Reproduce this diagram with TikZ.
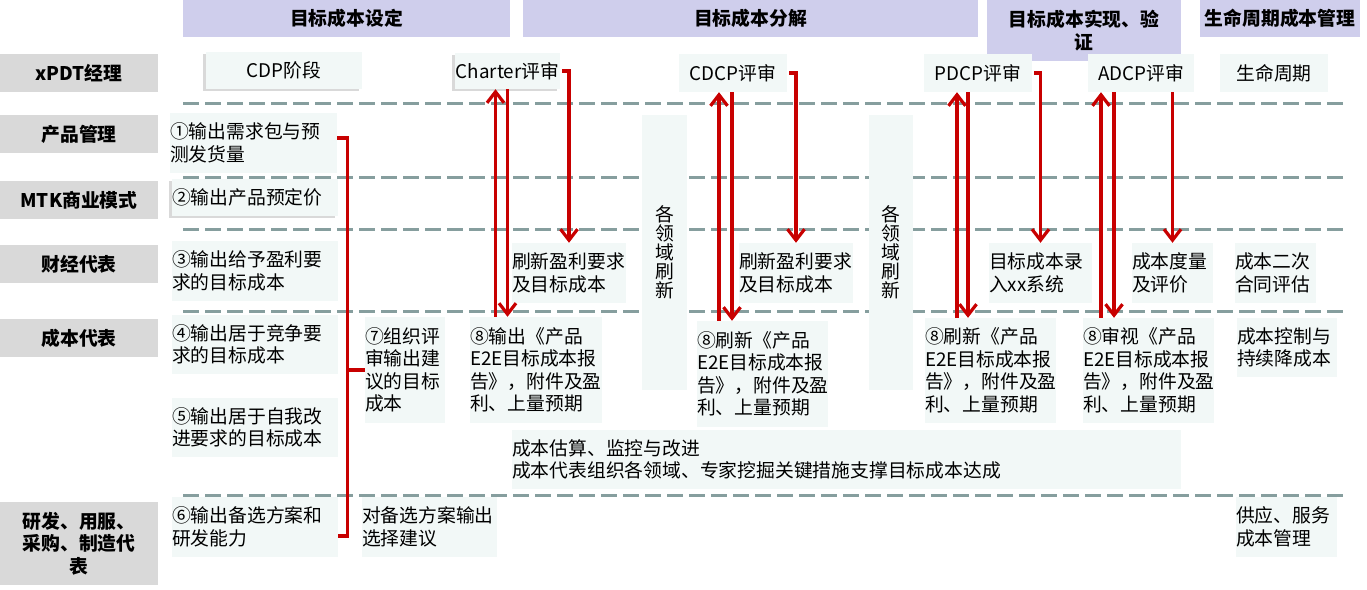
\documentclass[tikz,border=0pt]{standalone}
\usepackage{fontspec}
\setmainfont{Noto Sans CJK SC}
\usetikzlibrary{arrows.meta,shadows}

\definecolor{phasebg}{RGB}{207,206,236}
\definecolor{rolebg}{RGB}{217,217,217}
\definecolor{mintbg}{RGB}{242,248,247}
\definecolor{lanegray}{RGB}{134,158,158}
\definecolor{arrowred}{RGB}{200,0,0}

\begin{document}
\begin{tikzpicture}[x=1pt,y=-1pt,
    every node/.style={font=\fontsize{18.8}{22.5}\selectfont, inner sep=0pt},
    phase/.style={fill=phasebg, font=\fontsize{18.8}{22.5}\selectfont\bfseries},
    role/.style={fill=rolebg, minimum width=158pt, font=\fontsize{18.8}{22.5}\selectfont\bfseries},
    gate/.style={fill=mintbg, minimum width=108pt, minimum height=38pt},
    task/.style={fill=mintbg, align=left, text width=#1pt},
    fieldcol/.style={fill=mintbg, align=center, minimum height=275pt, font=\fontsize{18.8}{19}\selectfont},
    shadowed/.style={general shadow={fill=black!15, shadow xshift=-3pt, shadow yshift=-2pt}},
    lane/.style={draw=lanegray, line width=3pt, dash pattern=on 15.5pt off 6.5pt},
    redarrow/.style={draw=arrowred, line width=3.2pt, -{Straight Barb[length=11pt,width=17pt]}},
    bracket/.style={draw=arrowred, line width=3.2pt}]
  \useasboundingbox (0,0) rectangle (1367,589);

  % phases
  \node[phase, minimum width=327pt, minimum height=37pt] (set) at (346.5,18.5) {目标成本设定};
  \node[phase, minimum width=455pt, minimum height=37pt] (split) at (750.5,18.5) {目标成本分解};
  \node[phase, minimum width=194pt, minimum height=61pt, align=center] (realise) at (1084,30.5) {目标成本实现、验\\证};
  \node[phase, minimum width=160pt, minimum height=37pt] (lifecycle) at (1280,18.5) {生命周期成本管理};

  % roles
  \node[role, minimum height=38pt] (xpdt) at (79,73) {xPDT经理};
  \node[role, minimum height=38pt] (pm) at (79,134) {产品管理};
  \node[role, minimum height=38pt] (mtk) at (79,200) {MTK商业模式};
  \node[role, minimum height=38pt] (fin) at (79,264) {财经代表};
  \node[role, minimum height=38pt] (cost) at (79,338) {成本代表};
  \node[role, minimum height=83pt, align=center] (rd) at (79,543.5) {研发、用服、\\采购、制造代\\表};

  % lanes
  \draw[lane] (183,103) -- (1343,103);
  \draw[lane] (183,177) -- (1343,177);
  \draw[lane] (183,229) -- (1343,229);
  \draw[lane] (183,311) -- (1343,311);
  \draw[lane] (183,495) -- (1343,495);

  % gates
  \node[gate, minimum width=156pt, minimum height=37pt, shadowed] (cdp) at (284,70.5) {CDP阶段};
  \node[gate, minimum width=105pt, minimum height=36pt, shadowed] (charter) at (507.5,71) {Charter评审};
  \node[gate] (cdcp) at (733,73) {CDCP评审};
  \node[gate] (pdcp) at (978,73) {PDCP评审};
  \node[gate, minimum width=106pt] (adcp) at (1141,73) {ADCP评审};
  \node[gate] (life) at (1274,73) {生命周期};

  % inputs
  \node[task=167, minimum height=60pt] (in_1) at (253.5,143) {①输出需求包与预\\测发货量};
  \node[task=166, minimum height=37pt, shadowed] (in_2) at (255,197.5) {②输出产品预定价};
  \node[task=166, minimum height=60pt] (in_3) at (255,271) {③输出给予盈利要\\求的目标成本};
  \node[task=166, minimum height=59pt] (in_4) at (255,344.5) {④输出居于竞争要\\求的目标成本};
  \node[task=166, minimum height=59pt] (in_5) at (255,427.5) {⑤输出居于自我改\\进要求的目标成本};
  \node[task=166, minimum height=60pt] (in_6) at (255,527) {⑥输出备选方案和\\研发能力};
  \node[task=80, minimum height=106pt] (review) at (405,370) {⑦组织评\\审输出建\\议的目标\\成本};
  \node[task=135, minimum height=60pt] (choice) at (429.5,527) {对备选方案输出\\选择建议};

  % reports
  \node[task=132, minimum height=106pt] (out_1) at (536,370) {⑧输出《产品\\E2E目标成本报\\告》，附件及盈\\利、上量预期};
  \node[task=131, minimum height=106pt] (out_2) at (762.5,374) {⑧刷新《产品\\E2E目标成本报\\告》，附件及盈\\利、上量预期};
  \node[task=131, minimum height=105pt] (out_3) at (990.5,370.5) {⑧刷新《产品\\E2E目标成本报\\告》，附件及盈\\利、上量预期};
  \node[task=131, minimum height=105pt] (out_4) at (1148.5,370.5) {⑧审视《产品\\E2E目标成本报\\告》，附件及盈\\利、上量预期};

  % finance row and later stages
  \node[task=114, minimum height=60pt] (upd_1) at (569,273) {刷新盈利要求\\及目标成本};
  \node[task=114, minimum height=60pt] (upd_2) at (796,273) {刷新盈利要求\\及目标成本};
  \node[task=103, minimum height=60pt] (entry) at (1040.5,273) {目标成本录\\入xx系统};
  \node[task=81, minimum height=60pt] (measure) at (1172.5,273) {成本度量\\及评价};
  \node[task=81, minimum height=60pt] (recheck) at (1275.5,273) {成本二次\\合同评估};
  \node[task=100, minimum height=59pt] (control) at (1287,347.5) {成本控制与\\持续降成本};
  \node[task=101, minimum height=60pt] (supply) at (1286.5,527) {供应、服务\\成本管理};
  \node[task=669, minimum height=59pt] (track) at (846.5,459.5) {成本估算、监控与改进\\成本代表组织各领域、专家挖掘关键措施支撑目标成本达成};

  \node[fieldcol, minimum width=45pt] (field_1) at (664.5,252.5) {各\\领\\域\\刷\\新};
  \node[fieldcol, minimum width=44pt] (field_2) at (891,252.5) {各\\领\\域\\刷\\新};

  % bracket
  \coordinate (brace) at ([xshift=10pt]in_1.east);
  \draw[bracket] ([yshift=5pt]in_1.east) -- ([yshift=5pt]in_1.east -| brace)
      -- ([yshift=-9pt]in_6.east -| brace) -- ([yshift=-9pt]in_6.east);
  \draw[bracket] (review.west) -- (review.west -| brace);

  % review loops
  \draw[redarrow] ([xshift=-12pt]charter.south |- out_1.north) -- ([xshift=-12pt]charter.south);
  \draw[redarrow] (charter.south) -- (charter.south |- out_1.north);
  \draw[redarrow] ([xshift=2pt]charter.east) -| (upd_1.north);

  \draw[redarrow] ([xshift=-14pt]cdcp.south |- out_2.north) -- ([xshift=-14pt]cdcp.south);
  \draw[redarrow] ([xshift=-1pt]cdcp.south) -- ([xshift=-1pt]cdcp.south |- out_2.north);
  \draw[redarrow] ([xshift=2pt]cdcp.east) -| (upd_2.north);

  \draw[redarrow] ([xshift=-21pt]pdcp.south |- out_3.north) -- ([xshift=-21pt]pdcp.south);
  \draw[redarrow] ([xshift=-10pt]pdcp.south) -- ([xshift=-10pt]pdcp.south |- out_3.north);
  \draw[redarrow] ([xshift=2pt]pdcp.east) -| (entry.north);

  \draw[redarrow] ([xshift=-40pt]adcp.south |- out_4.north) -- ([xshift=-40pt]adcp.south);
  \draw[redarrow] ([xshift=-27pt]adcp.south) -- ([xshift=-27pt]adcp.south |- out_4.north);
  \draw[redarrow] (adcp.south -| measure.north) -- (measure.north);
\end{tikzpicture}
\end{document}
